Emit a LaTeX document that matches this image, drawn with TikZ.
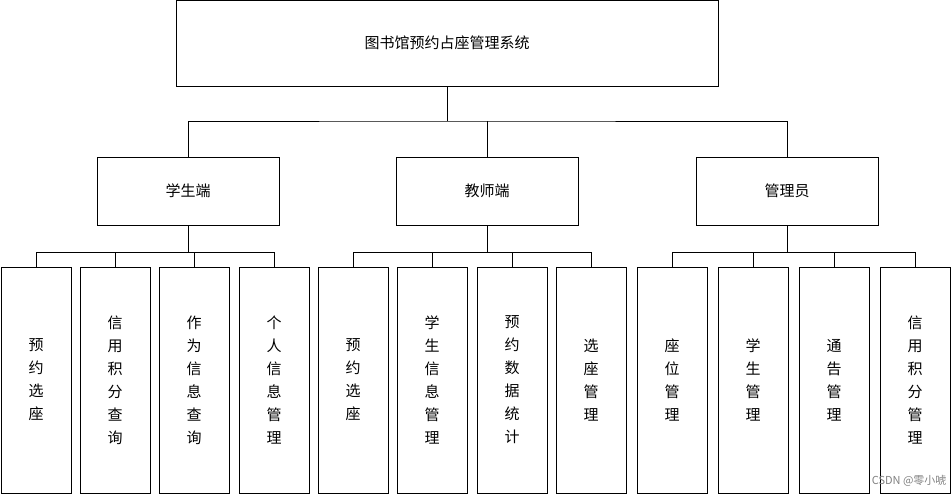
\documentclass[tikz,border=0pt]{standalone}
\usepackage{fontspec}
\setmainfont{Noto Sans CJK SC}
\XeTeXlinebreaklocale "zh"
\XeTeXlinebreakskip = 0pt plus 1pt
\usetikzlibrary{positioning}

\begin{document}
\begin{tikzpicture}[x=1pt,y=-1pt,
	box/.style={draw,thick,inner sep=0pt,font=\fontsize{15}{18}\selectfont},
	leaf/.style={box,minimum width=70pt,minimum height=226pt,text width=15pt,align=center,
		font=\fontsize{15}{23}\selectfont},
	wire/.style={thick}]
	\useasboundingbox (0,0) rectangle (952,495);
	% top and middle level
	\node[box,minimum width=542pt,minimum height=86pt] (sys) at (447,43) {图书馆预约占座管理系统};
	\node[box,minimum width=182pt,minimum height=68pt] (stu) at (188,191) {学生端};
	\node[box,minimum width=182pt,minimum height=68pt] (tea) at (487,191) {教师端};
	\node[box,minimum width=182pt,minimum height=68pt] (adm) at (787,191) {管理员};
	\coordinate (b0) at (447,121);
	\draw[wire] (sys.south) -- (b0);
	\draw[wire] (stu.north) |- (b0) -| (adm.north);
	\draw[wire] (tea.north) -- (tea.north |- b0);
	% leaves
	\foreach \i/\x/\t/\p in {1/36/预约选座/stu, 2/115/信用积分查询/stu, 3/194/作为信息查询/stu, 4/274/个人信息管理/stu,
		5/353/预约选座/tea, 6/432/学生信息管理/tea, 7/512/预约数据统计/tea, 8/591/选座管理/tea,
		9/672/座位管理/adm, 10/753/学生管理/adm, 11/834/通告管理/adm, 12/915/信用积分管理/adm} {
		\node[leaf] (l\i) at (\x,380) {\t};
		\draw[wire] (l\i.north) -- ++(0,-14) -| (\p.south);
	}
	\node[font=\fontsize{11}{12}\selectfont,text=gray,anchor=south east] (mark) at (950,490) {CSDN @零小唬};
\end{tikzpicture}
\end{document}
